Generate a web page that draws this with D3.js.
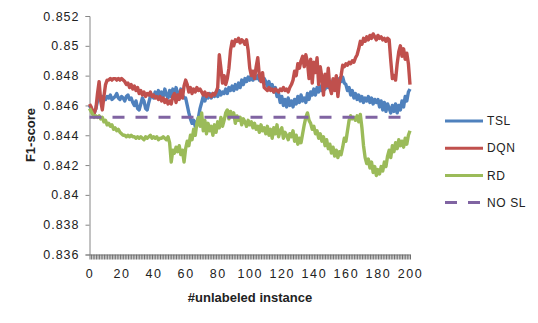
<!DOCTYPE html>
<html>
<head>
<meta charset="utf-8">
<script src="https://cdn.jsdelivr.net/npm/d3@7"></script>
<style>
  body { margin: 0; background: #fff; }
  text { font-family: "Liberation Sans", Arial, sans-serif; fill: #222; }
</style>
</head>
<body>
<div id="mount"></div>
<script>
var WIDTH = 538;
var HEIGHT = 323;

// x categories: number of unlabeled instances, 0..200
var instances = d3.range(0, 201);
var xTickLabels = [0, 20, 40, 60, 80, 100, 120, 140, 160, 180, 200];
var yTickValues = [0.836, 0.838, 0.84, 0.842, 0.844, 0.846, 0.848, 0.85, 0.852];
var seriesNames = ['TSL', 'DQN', 'RD', 'NO SL'];

var tsl = [
  0.8460, 0.8458, 0.8456, 0.8455, 0.8458, 0.8463, 0.8465, 0.8464, 0.8466, 0.8465,
  0.8464, 0.8466, 0.8465, 0.8467, 0.8464, 0.8465, 0.8466, 0.8468, 0.8465, 0.8464,
  0.8466, 0.8465, 0.8463, 0.8466, 0.8467, 0.8464, 0.8465, 0.8462, 0.8460, 0.8463,
  0.8458, 0.8457, 0.8461, 0.8465, 0.8463, 0.8458, 0.8457, 0.8462, 0.8466, 0.8467,
  0.8465, 0.8469, 0.8466, 0.8470, 0.8465, 0.8469, 0.8466, 0.8471, 0.8467, 0.8465,
  0.8470, 0.8466, 0.8471, 0.8467, 0.8472, 0.8468, 0.8466, 0.8471, 0.8467, 0.8465,
  0.8465, 0.8460, 0.8455, 0.8451, 0.8448, 0.8450, 0.8446, 0.8449, 0.8452, 0.8458,
  0.8462, 0.8466, 0.8463, 0.8467, 0.8465, 0.8468, 0.8465, 0.8468, 0.8466, 0.8469,
  0.8466, 0.8470, 0.8467, 0.8469, 0.8468, 0.8471, 0.8468, 0.8472, 0.8470, 0.8473,
  0.8470, 0.8474, 0.8471, 0.8475, 0.8472, 0.8477, 0.8474, 0.8478, 0.8476, 0.8479,
  0.8477, 0.8480, 0.8477, 0.8480, 0.8478, 0.8480, 0.8477, 0.8479, 0.8476, 0.8478,
  0.8476, 0.8473, 0.8476, 0.8471, 0.8474, 0.8469, 0.8472, 0.8466, 0.8468, 0.8462,
  0.8466, 0.8460, 0.8464, 0.8459, 0.8465, 0.8460, 0.8463, 0.8459, 0.8464, 0.8461,
  0.8466, 0.8462, 0.8467, 0.8463, 0.8465, 0.8462, 0.8468, 0.8464, 0.8469, 0.8467,
  0.8471, 0.8467, 0.8472, 0.8469, 0.8473, 0.8470, 0.8474, 0.8471, 0.8475, 0.8472,
  0.8476, 0.8473, 0.8477, 0.8474, 0.8478, 0.8475, 0.8478, 0.8476, 0.8479, 0.8475,
  0.8474, 0.8470, 0.8472, 0.8467, 0.8470, 0.8465, 0.8468, 0.8464, 0.8467, 0.8463,
  0.8466, 0.8462, 0.8465, 0.8463, 0.8466, 0.8462, 0.8465, 0.8461, 0.8464, 0.8462,
  0.8464, 0.8459, 0.8463, 0.8457, 0.8462, 0.8456, 0.8461, 0.8458, 0.8455, 0.8460,
  0.8456, 0.8461, 0.8455, 0.8460, 0.8457, 0.8463, 0.8459, 0.8466, 0.8463, 0.8469,
  0.8471
];

var dqn = [
  0.8461, 0.8459, 0.8456, 0.8455, 0.8458, 0.8468, 0.8476, 0.8463, 0.8457, 0.8466,
  0.8474, 0.8477, 0.8477, 0.8478, 0.8477, 0.8478, 0.8478, 0.8477, 0.8478, 0.8477,
  0.8478, 0.8477, 0.8476, 0.8474, 0.8475, 0.8472, 0.8474, 0.8471, 0.8473, 0.8470,
  0.8472, 0.8468, 0.8470, 0.8467, 0.8469, 0.8466, 0.8468, 0.8467, 0.8469, 0.8466,
  0.8467, 0.8465, 0.8466, 0.8464, 0.8466, 0.8463, 0.8465, 0.8462, 0.8464, 0.8461,
  0.8463, 0.8461, 0.8466, 0.8468, 0.8462, 0.8467, 0.8464, 0.8470, 0.8465, 0.8473,
  0.8477, 0.8474, 0.8469, 0.8472, 0.8468, 0.8471, 0.8469, 0.8472, 0.8470, 0.8471,
  0.8469, 0.8467, 0.8469, 0.8466, 0.8468, 0.8467, 0.8466, 0.8468, 0.8467, 0.8469,
  0.8472, 0.8494, 0.8485, 0.8475, 0.8480, 0.8474, 0.8478, 0.8485, 0.8497, 0.8503,
  0.8500, 0.8504, 0.8503, 0.8505, 0.8502, 0.8504, 0.8503, 0.8501, 0.8504, 0.8497,
  0.8485, 0.8480, 0.8483, 0.8478, 0.8486, 0.8492, 0.8480, 0.8476, 0.8482, 0.8472,
  0.8471, 0.8470, 0.8472, 0.8470, 0.8471, 0.8469, 0.8471, 0.8470, 0.8469, 0.8471,
  0.8470, 0.8472, 0.8470, 0.8471, 0.8469, 0.8472, 0.8474, 0.8477, 0.8483, 0.8480,
  0.8488, 0.8485, 0.8490, 0.8493, 0.8486, 0.8494, 0.8489, 0.8478, 0.8491, 0.8475,
  0.8489, 0.8482, 0.8492, 0.8474, 0.8486, 0.8479, 0.8467, 0.8481, 0.8473, 0.8485,
  0.8472, 0.8468, 0.8478, 0.8470, 0.8480, 0.8466, 0.8476, 0.8480, 0.8487, 0.8486,
  0.8488, 0.8487, 0.8489, 0.8488, 0.8490, 0.8489, 0.8492, 0.8494, 0.8498, 0.8503,
  0.8501, 0.8505, 0.8503, 0.8506, 0.8504, 0.8507, 0.8505, 0.8508, 0.8506, 0.8504,
  0.8507, 0.8505, 0.8506, 0.8504, 0.8505, 0.8503, 0.8505, 0.8504, 0.8490, 0.8478,
  0.8480, 0.8477, 0.8488, 0.8496, 0.8500, 0.8493, 0.8498, 0.8491, 0.8495, 0.8488,
  0.8474
];

var rd = [
  0.8458, 0.8456, 0.8454, 0.8452, 0.8453, 0.8452, 0.8453, 0.8451, 0.8452, 0.8449,
  0.8450, 0.8447, 0.8448, 0.8446, 0.8447, 0.8444, 0.8445, 0.8443, 0.8444, 0.8442,
  0.8441, 0.8440, 0.8440, 0.8439, 0.8440, 0.8439, 0.8440, 0.8439, 0.8439, 0.8438,
  0.8439, 0.8438, 0.8439, 0.8438, 0.8437, 0.8439, 0.8438, 0.8439, 0.8440, 0.8438,
  0.8439, 0.8438, 0.8439, 0.8437, 0.8438, 0.8438, 0.8439, 0.8438, 0.8437, 0.8439,
  0.8435, 0.8422, 0.8430, 0.8428, 0.8432, 0.8429, 0.8433, 0.8427, 0.8430, 0.8422,
  0.8431, 0.8436, 0.8433, 0.8440, 0.8437, 0.8444, 0.8440, 0.8448, 0.8452, 0.8446,
  0.8455, 0.8443, 0.8450, 0.8441, 0.8448, 0.8443, 0.8446, 0.8440, 0.8447, 0.8442,
  0.8449, 0.8445, 0.8452, 0.8446, 0.8450, 0.8455, 0.8457, 0.8451, 0.8456, 0.8453,
  0.8455, 0.8448, 0.8453, 0.8450, 0.8452, 0.8447, 0.8451, 0.8449, 0.8446, 0.8450,
  0.8447, 0.8449, 0.8445, 0.8448, 0.8444, 0.8446, 0.8442, 0.8447, 0.8443, 0.8445,
  0.8441, 0.8446, 0.8440, 0.8444, 0.8438, 0.8445, 0.8441, 0.8447, 0.8439, 0.8443,
  0.8445, 0.8438, 0.8442, 0.8440, 0.8437, 0.8441, 0.8439, 0.8443, 0.8436, 0.8440,
  0.8434, 0.8438, 0.8435, 0.8441, 0.8447, 0.8452, 0.8455, 0.8450, 0.8448, 0.8444,
  0.8446, 0.8441, 0.8443, 0.8438, 0.8441, 0.8436, 0.8439, 0.8433, 0.8437, 0.8431,
  0.8434, 0.8428, 0.8432, 0.8426, 0.8430, 0.8425, 0.8429, 0.8427, 0.8432, 0.8438,
  0.8436, 0.8443, 0.8450, 0.8453, 0.8451, 0.8452, 0.8450, 0.8453, 0.8449, 0.8454,
  0.8445, 0.8433, 0.8425, 0.8421, 0.8424, 0.8418, 0.8422, 0.8415, 0.8419, 0.8413,
  0.8417, 0.8414, 0.8419, 0.8416, 0.8422, 0.8419, 0.8426, 0.8430, 0.8425, 0.8433,
  0.8429, 0.8435, 0.8431, 0.8437, 0.8433, 0.8436, 0.8432, 0.8438, 0.8434, 0.8440,
  0.8443
];

// baseline without self-learning is a flat value
var noSl = 0.8452;

var colors = ['#4F81BD', '#C0504D', '#9BBB59', '#8064A2'];

document.addEventListener('DOMContentLoaded', function () {
  var x = d3.scaleLinear().domain([0, 200]).range([89.5, 410]);
  var y = d3.scaleLinear().domain([0.836, 0.852]).range([254.5, 16]);

  var $svg = d3.select('#mount')
    .append('svg')
    .attr('width', WIDTH)
    .attr('height', HEIGHT);

  // y axis
  var yAxis = d3.axisLeft(y)
    .tickValues(yTickValues)
    .tickSize(4)
    .tickPadding(6)
    .tickFormat(d3.format('.3~f'));

  var $yAxis = $svg.append('g')
    .attr('transform', 'translate(' + x(0) + ',0)')
    .call(yAxis);
  $yAxis.select('.domain').attr('stroke', '#868686');
  $yAxis.selectAll('.tick line').attr('stroke', '#868686');
  $yAxis.selectAll('text')
    .style('font-size', '12.5px')
    .style('letter-spacing', '1px')
    .attr('fill', '#222');

  // x axis: one tick per category, labels every 20
  var xAxis = d3.axisBottom(x)
    .tickValues(instances)
    .tickSize(5)
    .tickPadding(10)
    .tickSizeOuter(0)
    .tickFormat(function (d) { return xTickLabels.indexOf(d) >= 0 ? d : ''; });

  var $xAxis = $svg.append('g')
    .attr('transform', 'translate(0,' + y(0.836) + ')')
    .call(xAxis);
  $xAxis.select('.domain').attr('stroke', '#868686');
  $xAxis.selectAll('.tick line').attr('stroke', '#6e6e6e').attr('stroke-width', 1);
  $xAxis.selectAll('text')
    .style('font-size', '12.5px')
    .style('letter-spacing', '1.6px')
    .attr('fill', '#222');

  // series lines
  var line = d3.line()
    .x(function (d, i) { return x(instances[i]); })
    .y(function (d) { return y(d); });

  [tsl, dqn, rd].forEach(function (values, k) {
    $svg.append('path')
      .datum(values)
      .attr('fill', 'none')
      .attr('stroke', colors[k])
      .attr('stroke-width', 3.4)
      .attr('stroke-linejoin', 'round')
      .attr('d', line);
  });

  $svg.append('line')
    .attr('x1', x(0))
    .attr('x2', x(200))
    .attr('y1', y(noSl))
    .attr('y2', y(noSl))
    .attr('stroke', colors[3])
    .attr('stroke-width', 3)
    .attr('stroke-dasharray', '12,11');

  // axis titles
  $svg.append('text')
    .attr('transform', 'translate(35,135) rotate(-90)')
    .attr('text-anchor', 'middle')
    .style('font-size', '13px')
    .style('font-weight', 'bold')
    .text('F1-score');

  $svg.append('text')
    .attr('x', 250)
    .attr('y', 302)
    .attr('text-anchor', 'middle')
    .style('font-size', '13px')
    .style('font-weight', 'bold')
    .text('#unlabeled instance');

  // legend
  var $legend = $svg.selectAll('.legend')
    .data(seriesNames)
    .enter()
    .append('g')
    .attr('class', 'legend')
    .attr('transform', function (d, i) { return 'translate(445,' + (121 + i * 27.2) + ')'; });

  $legend.append('line')
    .attr('x1', 0)
    .attr('x2', 38)
    .attr('stroke', function (d, i) { return colors[i]; })
    .attr('stroke-width', 3)
    .attr('stroke-dasharray', function (d, i) { return i === 3 ? '12,11' : null; });

  $legend.append('text')
    .attr('x', 42)
    .attr('dy', '0.35em')
    .style('font-size', '12px')
    .style('letter-spacing', '0.6px')
    .text(function (d) { return d; });
});
</script>
</body>
</html>
